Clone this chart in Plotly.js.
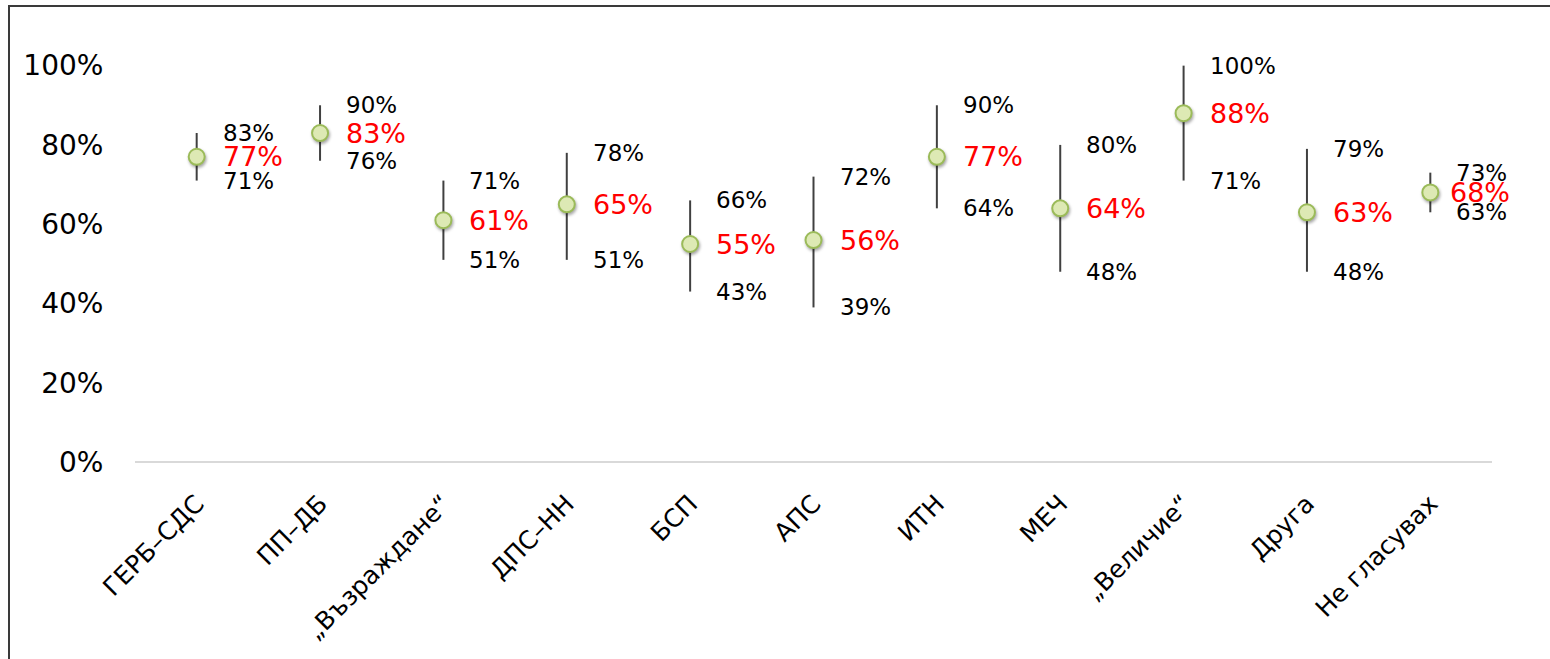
<!DOCTYPE html>
<html>
<head>
<meta charset="utf-8">
<script src="https://cdn.plot.ly/plotly-3.0.1.min.js"></script>
<style>
  html, body { margin: 0; padding: 0; background: #fff; }
  #chart { width: 1550px; height: 659px; }
  #frame { position: absolute; left: 8px; top: 5px; width: 1700px; height: 800px;
           border-left: 2px solid #3a3a3a; border-top: 2px solid #3a3a3a; pointer-events: none; }
  .scatterlayer .point { filter: drop-shadow(1px 2px 1.5px rgba(0,0,0,0.35)); }
</style>
</head>
<body>
<div id="chart"></div>
<div id="frame"></div>
<script>
const categories = ["ГЕРБ–СДС", "ПП–ДБ", "„Възраждане“", "ДПС–НН", "БСП", "АПС", "ИТН", "МЕЧ", "„Величие“", "Друга", "Не гласувах"];
const meanVals = [0.77, 0.83, 0.61, 0.65, 0.55, 0.56, 0.77, 0.64, 0.88, 0.63, 0.68];
const maxVals  = [0.83, 0.90, 0.71, 0.78, 0.66, 0.72, 0.90, 0.80, 1.00, 0.79, 0.73];
const minVals  = [0.71, 0.76, 0.51, 0.51, 0.43, 0.39, 0.64, 0.48, 0.71, 0.48, 0.63];

const FONT = "DejaVu Sans, Liberation Sans, sans-serif";
const pct = v => Math.round(v * 100) + "%";

const trace = {
  type: "scatter",
  mode: "markers",
  x: categories,
  y: meanVals,
  cliponaxis: false,
  marker: { size: 16, color: "#dde9b4", line: { color: "#9bbb59", width: 2 } },
  error_y: {
    type: "data", symmetric: false,
    array: maxVals.map((v, i) => v - meanVals[i]),
    arrayminus: minVals.map((v, i) => meanVals[i] - v),
    color: "#404040", thickness: 2, width: 0
  },
  hoverinfo: "skip"
};

const annotations = [];
categories.forEach((c, i) => {
  annotations.push({ x: c, y: maxVals[i], xref: "x", yref: "y", text: pct(maxVals[i]), showarrow: false,
    xanchor: "left", yanchor: "middle", xshift: 24, font: { family: FONT, size: 23, color: "#000" } });
  annotations.push({ x: c, y: minVals[i], xref: "x", yref: "y", text: pct(minVals[i]), showarrow: false,
    xanchor: "left", yanchor: "middle", xshift: 24, font: { family: FONT, size: 23, color: "#000" } });
  annotations.push({ x: c, y: meanVals[i], xref: "x", yref: "y", text: pct(meanVals[i]), showarrow: false,
    xanchor: "left", yanchor: "middle", xshift: (i === categories.length - 1 ? 18 : 24),
    font: { family: FONT, size: 27, color: "#ff0000" } });
});

const layout = {
  width: 1550, height: 659,
  margin: { l: 135, r: 58, t: 26, b: 197 },
  paper_bgcolor: "#fff", plot_bgcolor: "#fff",
  showlegend: false,
  font: { family: FONT, color: "#000" },
  xaxis: {
    type: "category", range: [-0.5, 10.5], showgrid: false, zeroline: false,
    showline: false, tickangle: -45, ticks: "outside", ticklen: 16, tickcolor: "rgba(0,0,0,0)",
    tickfont: { family: FONT, size: 25, color: "#000" }, fixedrange: true
  },
  yaxis: {
    range: [0, 1.1], tickvals: [0, 0.2, 0.4, 0.6, 0.8, 1.0], tickformat: ".0%",
    showgrid: false, zeroline: true, zerolinecolor: "#d9d9d9", zerolinewidth: 2,
    showline: false, ticks: "outside", ticklen: 25, tickcolor: "rgba(0,0,0,0)",
    tickfont: { family: FONT, size: 28, color: "#000" }, fixedrange: true
  },
  annotations: annotations
};

Plotly.newPlot("chart", [trace], layout, { displayModeBar: false, staticPlot: true });
</script>
</body>
</html>
